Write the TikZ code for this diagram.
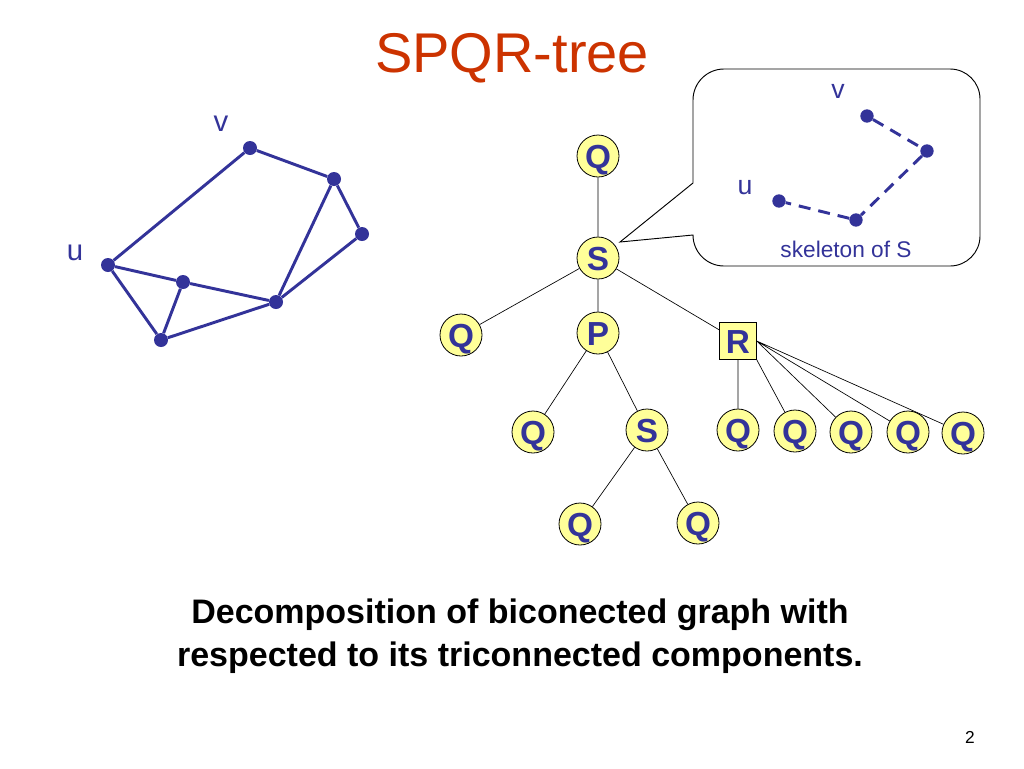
\documentclass[tikz,border=0pt]{standalone}
\usepackage{fontspec}
\setmainfont{Liberation Sans}
\definecolor{nblue}{RGB}{51,51,153}
\definecolor{yel}{RGB}{255,255,153}
\definecolor{titred}{RGB}{204,51,0}
\begin{document}
\begin{tikzpicture}[x=0.75pt,y=-0.75pt,
  tn/.style={circle,draw=black,line width=0.6pt,fill=yel,minimum size=31.5pt,inner sep=0pt,
    font=\fontsize{25}{25}\selectfont\bfseries,text=nblue,text height=18pt,text depth=0pt},
  rn/.style={rectangle,draw=black,line width=0.6pt,fill=yel,minimum size=27.5pt,inner sep=0pt,
    font=\fontsize{25}{25}\selectfont\bfseries,text=nblue,text height=18pt,text depth=0pt},
  te/.style={draw=black,line width=0.5pt},
  dot/.style={circle,fill=nblue,minimum size=10.5pt,inner sep=0pt},
  sdot/.style={circle,fill=nblue,minimum size=10pt,inner sep=0pt},
  ge/.style={draw=nblue,line width=2.2pt},
  se/.style={draw=nblue,line width=2.2pt,dash pattern=on 9pt off 6pt},
  lbl/.style={text=nblue,font=\fontsize{22}{22}\selectfont,inner sep=0pt},
  slbl/.style={text=nblue,font=\fontsize{18}{18}\selectfont,inner sep=0pt}]
\useasboundingbox (0,0) rectangle (1024,768);
\fill[white] (0,0) rectangle (1024,768);
% title
\node[text=titred,font=\fontsize{42}{42}\selectfont] (title) at (512,58) {SPQR-tree};
% left graph
\node[dot] (gv) at (250,148) {};
\node[dot] (ga) at (334,179) {};
\node[dot] (gb) at (362,234) {};
\node[dot] (gu) at (108,265) {};
\node[dot] (gc) at (183,282) {};
\node[dot] (gd) at (276,302) {};
\node[dot] (ge) at (161,340) {};
\node[lbl] (lv) at (221,124) {v};
\node[lbl] (lu) at (75,253) {u};
\draw[ge] (gv)--(gu) (gv)--(ga) (ga)--(gb) (ga)--(gd) (gb)--(gd) (gu)--(gc) (gc)--(gd)
  (gu)--(ge) (gc)--(ge) (ge)--(gd);
% callout
\draw[line width=0.7pt,fill=white] (724,69) -- (950,69) arc[start angle=270,end angle=360,radius=30]
  -- (980,236) arc[start angle=0,end angle=90,radius=30] -- (724,266)
  arc[start angle=90,end angle=180,radius=31] -- (620,242) -- (693,183) -- (693,100)
  arc[start angle=180,end angle=270,radius=31] -- cycle;
\node[sdot] (sv) at (867,116) {};
\node[sdot] (sa) at (927,151) {};
\node[sdot] (sb) at (856,220) {};
\node[sdot] (su) at (779,201) {};
\node[slbl,font=\fontsize{20}{20}\selectfont] (slv) at (838,91) {v};
\node[slbl,font=\fontsize{20}{20}\selectfont] (slu) at (745,188) {u};
\node[slbl,font=\fontsize{17}{17}\selectfont] (sk) at (846,249) {skeleton of S};
\draw[se] (sv)--(sa) (sa)--(sb) (sb)--(su);
% tree
\node[tn] (q0) at (598,156) {Q};
\node[tn] (s0) at (598,258) {S};
\node[tn] (p0) at (598,333) {P};
\node[tn] (q1) at (461,335) {Q};
\node[rn] (r0) at (738,341) {R};
\node[tn] (q2) at (533,432) {Q};
\node[tn] (s1) at (647,430) {S};
\node[tn] (q3) at (738,430) {Q};
\node[tn] (q4) at (795,431) {Q};
\node[tn] (q5) at (851,432) {Q};
\node[tn] (q6) at (908,432) {Q};
\node[tn] (q7) at (963,433) {Q};
\node[tn] (q8) at (580,524) {Q};
\node[tn] (q9) at (698,523) {Q};
\draw[te] (s0)--(q0) (s0)--(q1) (s0)--(p0) (s0)--(r0) (p0)--(q2) (p0)--(s1)
  (s1)--(q8) (s1)--(q9) (r0.south)--(q3) (r0.south east)--(q4) (r0.east)--(q5)
  (r0.east)--(q6) (r0.east)--(q7);
% caption
\node[font=\fontsize{25.5}{32}\selectfont\bfseries,align=center] (cap) at (520,636)
  {Decomposition of biconected graph with\\respected to its triconnected components.};
\node[font=\fontsize{13}{13}\selectfont] (pg) at (970,737) {2};
\end{tikzpicture}
\end{document}
